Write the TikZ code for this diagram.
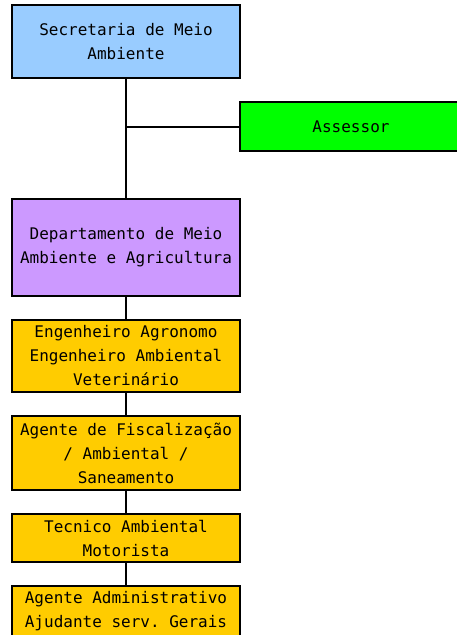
\documentclass[tikz,border=0pt]{standalone}
\usepackage{fontspec}
\setmonofont{DejaVu Sans Mono}
\usetikzlibrary{positioning}

\definecolor{secblue}{HTML}{99CCFF}
\definecolor{assgreen}{HTML}{00FF00}
\definecolor{deppurple}{HTML}{CC99FF}
\definecolor{staffyellow}{HTML}{FFCC00}

\begin{document}
\begin{tikzpicture}[
    x=1pt, y=1pt,
    node distance=24pt,
    block/.style={rectangle, draw, line width=2pt, outer sep=0pt, minimum width=228pt, inner sep=2pt, align=center, font=\ttfamily\fontsize{16}{24}\selectfont},
    staff/.style={block, fill=staffyellow},
    link/.style={line width=2pt}
]
    \useasboundingbox (0,0) rectangle (456,-635);

    \node[block, fill=secblue, minimum height=73pt] (sec) at (126,-41.5) {Secretaria de Meio\\Ambiente};
    \node[block, fill=assgreen, minimum width=222pt, minimum height=49pt] (ass) at (351,-126.5) {Assessor};
    \node[block, fill=deppurple, minimum height=97pt, below=121pt of sec] (dep) {Departamento de Meio\\Ambiente e Agricultura};

    \node[staff, minimum height=72pt, below=of dep] (eng) {Engenheiro Agronomo\\Engenheiro Ambiental\\Veterinário};
    \node[staff, minimum height=74pt, below=of eng] (fisc) {Agente de Fiscalização\\/ Ambiental /\\Saneamento};
    \node[staff, minimum height=48pt, below=of fisc] (tec) {Tecnico Ambiental\\Motorista};
    \node[staff, minimum height=50pt, below=of tec] (adm) {Agente Administrativo\\Ajudante serv. Gerais};

    \coordinate (jct) at (sec.south |- ass.west);

    \draw[link] (sec) -- (dep);
    \draw[link] (jct) -- (ass);
    \draw[link] (dep) -- (eng);
    \draw[link] (eng) -- (fisc);
    \draw[link] (fisc) -- (tec);
    \draw[link] (tec) -- (adm);
\end{tikzpicture}
\end{document}
